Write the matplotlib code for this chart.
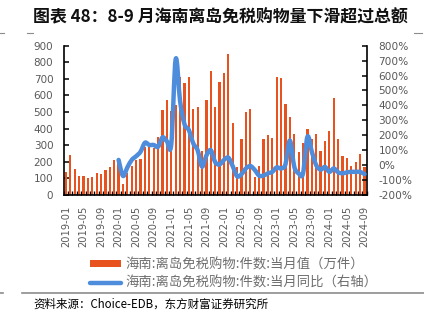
import numpy as np
import matplotlib
matplotlib.use("Agg")
import matplotlib.pyplot as plt
from matplotlib.path import Path
from matplotlib.patches import PathPatch, Patch
from matplotlib.lines import Line2D

plt.rcParams['font.family'] = ['Noto Sans CJK SC', 'DejaVu Sans']

# Monthly data, 2019-01 .. 2024-09
months = [f"{y}-{m:02d}" for y in range(2019, 2025) for m in range(1, 13)][:69]

# 件数 当月值 (万件)
pieces = [
    140, 240, 158, 115, 115, 103, 107, 134, 125, 153, 169, 210,
    205, 65, 130, 177, 210, 215, 287, 290, 285, 347, 511, 574,
    508, 540, 714, 676, 709, 516, 530, 264, 574, 746, 532, 680,
    733, 849, 432, 168, 340, 500, 516, 110, 176, 335, 363, 345,
    710, 704, 546, 470, 370, 262, 315, 395, 339, 370, 265, 326,
    386, 586, 335, 236, 226, 175, 196, 246, 166,
]

# 当月同比 (%), starts 2020-01
yoy_start = 12
yoy = [
    35, -72, -15, 35, 60, 90, 150, 135, 135, 123, 186, 160,
    140, 710, 430, 275, 235, 146, 100, -10, 65, 100, 20, 5,
    35, 50, -8, -75, -60, -22, -6, -32, -70, -70, -55, -45,
    -15, -22, 5, 165, -10, -55, -55, 190, 90, 0, -30, -12,
    -45, -22, -48, -55, -48, -45, -45, -45, -60,
]

label_step = 4
bar_color = '#E8521F'
line_color = '#4E8DDB'
tick_gray = '#595959'
legend_gray = '#6e6e6e'


def smooth_path(xs, ys):
    '''Catmull-Rom style cubic bezier through the points.'''
    pts = np.column_stack([xs, ys]).astype(float)
    n = len(pts)
    verts = [pts[0]]
    codes = [Path.MOVETO]
    for i in range(n - 1):
        p0 = pts[max(i - 1, 0)]
        p1 = pts[i]
        p2 = pts[i + 1]
        p3 = pts[min(i + 2, n - 1)]
        verts += [p1 + (p2 - p0) / 6, p2 - (p3 - p1) / 6, p2]
        codes += [Path.CURVE4] * 3
    return Path(verts, codes)


fig = plt.figure(figsize=(4.24, 3.25), dpi=100)
ax = fig.add_axes([63.7 / 424, 1 - 195 / 325, (366.7 - 63.7) / 424, (195 - 45.7) / 325])
ax2 = ax.twinx()

x = np.arange(len(pieces))
ax.bar(x, pieces, width=0.5, color=bar_color, zorder=2)
ax.set_xlim(-0.5, len(pieces) - 0.5)
ax.set_ylim(0, 900)
ax.set_yticks(range(0, 901, 100))

ax.set_xticks(x[::label_step])
ax.set_xticklabels(months[::label_step], rotation=90, fontsize=7.1,
                   color=tick_gray, family='DejaVu Sans')
ax.set_xticks(np.arange(-0.5, len(pieces)), minor=True)
ax.tick_params(axis='x', which='major', length=0, pad=8)
ax.tick_params(axis='x', which='minor', direction='in', length=3, width=1, color='black')
ax.tick_params(axis='y', direction='in', length=3.5, width=1.1, color='black',
               labelsize=7.5, labelcolor=tick_gray, pad=7.5)
for lab in ax.get_yticklabels():
    lab.set_family('DejaVu Sans')

for side in ['top', 'right']:
    ax.spines[side].set_visible(False)
for side in ['left', 'bottom']:
    ax.spines[side].set_color('black')
    ax.spines[side].set_linewidth(1.2)

# YoY line on the right axis
xl = np.arange(yoy_start, yoy_start + len(yoy))
ax2.add_patch(PathPatch(smooth_path(xl, yoy), facecolor='none', edgecolor=line_color,
                        linewidth=3.2, capstyle='round', joinstyle='round', zorder=3))
ax2.set_ylim(-200, 800)
ax2.set_yticks(range(-200, 801, 100))
ax2.set_yticklabels([f"{v}%" for v in range(-200, 801, 100)])
ax2.tick_params(axis='y', direction='in', length=3.5, width=1.1, color='black',
                labelsize=7.6, labelcolor=tick_gray, pad=8.5)
for lab in ax2.get_yticklabels():
    lab.set_family('DejaVu Sans')
for side in ['top', 'left', 'bottom']:
    ax2.spines[side].set_visible(False)
ax2.spines['right'].set_color('black')
ax2.spines['right'].set_linewidth(1.2)

# Title
fig.text(33 / 424, 1 - 17 / 325, "图表 48：8-9 月海南离岛免税购物量下滑超过总额",
         fontsize=12.2, fontweight='bold', color='#111111', ha='left', va='center')

# Small rule fragments around the header and footer
grey = '#8c8c8c'
for x0, x1 in [(0, 4), (27, 33), (414, 422)]:
    fig.add_artist(Line2D([x0 / 424, x1 / 424], [1 - 33 / 325] * 2, color=grey, lw=0.8))
fig.add_artist(Line2D([22 / 424, 1], [1 - 293 / 325] * 2, color=grey, lw=1.2))
fig.add_artist(Line2D([0, 3 / 424], [1 - 293 / 325] * 2, color=grey, lw=1.2))

# Legend
handles = [
    Patch(facecolor=bar_color, edgecolor='none'),
    Line2D([], [], color=line_color, lw=3.2, solid_capstyle='round'),
]
labels = ["海南:离岛免税购物:件数:当月值（万件）", "海南:离岛免税购物:件数:当月同比（右轴）"]
leg = fig.legend(handles, labels, loc='upper left', bbox_to_anchor=(90 / 424, 1 - 257.5 / 325),
                 frameon=False, fontsize=9.6, handlelength=2.3, handleheight=0.4,
                 handletextpad=0.35, labelspacing=0.33, borderpad=0, borderaxespad=0)
for t in leg.get_texts():
    t.set_color(legend_gray)

# Source note
fig.text(33 / 424, 1 - 304 / 325, "资料来源：Choice-EDB，东方财富证券研究所",
         fontsize=8.3, color='black', ha='left', va='center')

fig.savefig("out.png", dpi=100)
